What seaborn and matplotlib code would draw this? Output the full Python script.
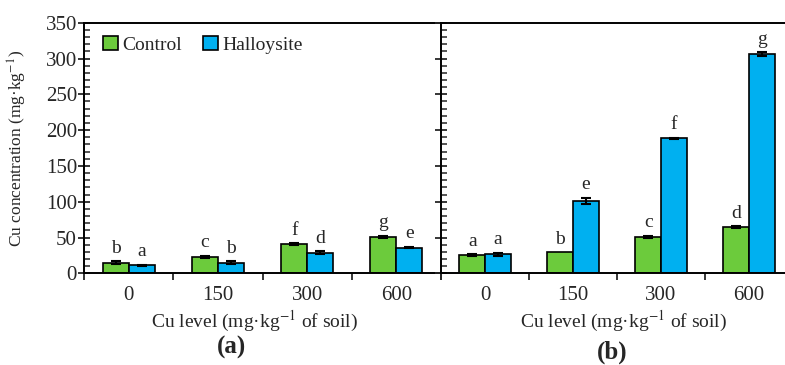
import numpy as np
import pandas as pd
import matplotlib
matplotlib.use("Agg")
import matplotlib.pyplot as plt
import seaborn as sns
from matplotlib.ticker import MultipleLocator, FixedLocator

# ---------------- data ----------------
levels = ["0", "150", "300", "600"]
treatments = ["Control", "Halloysite"]

ctrl_a = [15, 23, 41, 51]
hal_a = [11, 15, 29, 36]
err_ctrl_a = [1.5, 1.8, 1.2, 1.5]
err_hal_a = [1.2, 1.5, 1.5, 1.2]
let_ctrl_a = ["b", "c", "f", "g"]
let_hal_a = ["a", "b", "d", "e"]

ctrl_b = [25.5, 29.5, 51, 64.5]
hal_b = [26.5, 101, 188.5, 306]
err_ctrl_b = [1.5, 0, 1.5, 1.5]
err_hal_b = [2.5, 4.5, 1.0, 3.0]
let_ctrl_b = ["a", "b", "c", "d"]
let_hal_b = ["a", "e", "f", "g"]

green = "#6CCB3C"
blue = "#00B0F0"

sns.set_style("white")
plt.rcParams["font.family"] = ["Liberation Serif", "DejaVu Serif"]
plt.rcParams["mathtext.fontset"] = "stix"

fig = plt.figure(figsize=(7.85, 3.65), dpi=100)
axA = fig.add_axes([84 / 785, 0.2512, 357 / 785, 0.6866])
axB = fig.add_axes([441 / 785, 0.2512, 352 / 785, 0.6866])


def make_df(c, h):
    return pd.DataFrame({
        "level": levels * 2,
        "value": list(c) + list(h),
        "treatment": [treatments[0]] * len(levels) + [treatments[1]] * len(levels),
    })


def panel(ax, c, h, ec, eh, lc, lh, show_ylabels):
    df = make_df(c, h)
    sns.barplot(data=df, x="level", y="value", hue="treatment", order=levels,
                hue_order=treatments, palette=[green, blue], saturation=1,
                edgecolor="black", linewidth=1.2, width=0.58, gap=0,
                errorbar=None, ax=ax, legend=show_ylabels)
    for cont, errs, lets in zip(ax.containers, [ec, eh], [lc, lh]):
        for bar, e, lt in zip(cont, errs, lets):
            xc = bar.get_x() + bar.get_width() / 2
            top = bar.get_height()
            if e > 0:
                ax.errorbar(xc, top, yerr=e, fmt="none", ecolor="black",
                            elinewidth=1.5, capsize=3.5, capthick=1.5, zorder=5)
            ax.annotate(lt, (xc, top + e), xytext=(0, 6), textcoords="offset points",
                        ha="center", va="baseline", fontsize=14)
    ax.set_xlim(-0.5, 3.5)
    ax.set_ylim(0, 350)
    ax.yaxis.set_major_locator(MultipleLocator(50))
    ax.yaxis.set_minor_locator(MultipleLocator(10))
    ax.xaxis.set_minor_locator(FixedLocator([-0.5, 0.5, 1.5, 2.5, 3.5]))
    ax.tick_params(axis="y", which="major", direction="inout", length=8, width=1.3,
                   labelsize=15, pad=1, left=True, labelleft=show_ylabels)
    ax.tick_params(axis="y", which="minor", direction="in", length=4, width=1.1, left=True)
    ax.tick_params(axis="x", which="major", length=0, labelsize=15, pad=9)
    ax.tick_params(axis="x", which="minor", direction="out", length=5, width=1.3, bottom=True)
    for s in ["left", "bottom", "top"]:
        ax.spines[s].set_visible(True)
        ax.spines[s].set_color("black")
        ax.spines[s].set_linewidth(1.4)
    ax.spines["right"].set_visible(False)
    ax.set_xlabel(r"Cu level (mg·kg$^{-1}$ of soil)", fontsize=14)
    ax.set_ylabel("")


panel(axA, ctrl_a, hal_a, err_ctrl_a, err_hal_a, let_ctrl_a, let_hal_a, True)
panel(axB, ctrl_b, hal_b, err_ctrl_b, err_hal_b, let_ctrl_b, let_hal_b, False)

axA.xaxis.set_label_coords(0.479, -0.142)
axB.xaxis.set_label_coords(0.52, -0.142)

axA.set_ylabel(r"Cu concentration (mg·kg$^{-1}$)", fontsize=12.5)
axA.yaxis.set_label_coords(-0.155, 0.5)

handles, labels = axA.get_legend_handles_labels()
axA.legend(handles, labels, loc="upper left", bbox_to_anchor=(0.053, 0.948),
           borderaxespad=0, borderpad=0, frameon=False, ncol=2, fontsize=14,
           handlelength=0.78, handleheight=0.78, handletextpad=0.2,
           columnspacing=1.1)

fig.text(0.2955, 0.047, "(a)", ha="center", va="center", fontsize=18, fontweight="bold")
fig.text(0.78, 0.036, "(b)", ha="center", va="center", fontsize=18, fontweight="bold")

fig.savefig("out.png", dpi=100)
